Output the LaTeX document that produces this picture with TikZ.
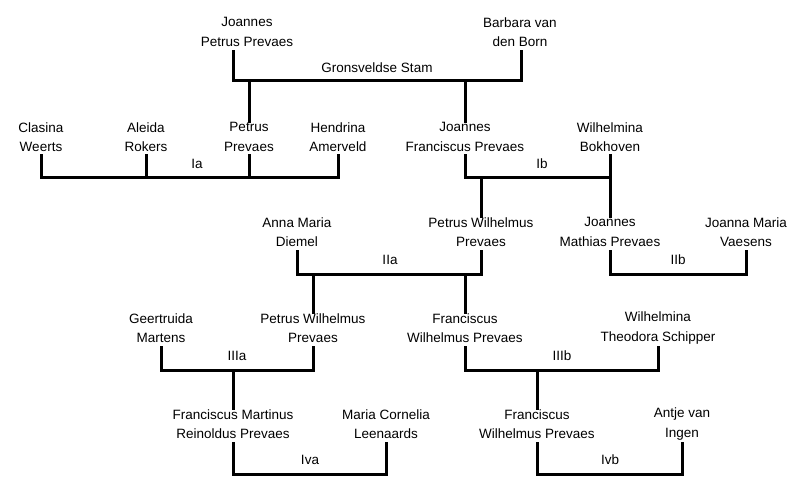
\documentclass[tikz,border=0pt]{standalone}
\usepackage{fontspec}
\setmainfont{Liberation Sans}
\begin{document}
\begin{tikzpicture}[x=1pt,y=-1pt,
  person/.style={align=center,inner sep=1pt,font=\fontsize{13.5}{19.5}\selectfont},
  lab/.style={inner sep=1pt,font=\fontsize{13.5}{16}\selectfont},
  ln/.style={line width=3pt,line cap=rect}]
\useasboundingbox (0,0) rectangle (804,492);
% people
\node[person] (jp) at (247,32) {Joannes\\Petrus Prevaes};
\node[person] (bb) at (520,32) {Barbara van\\den Born};
\node[person] (cw) at (41,137) {Clasina\\Weerts};
\node[person] (ar) at (146,137) {Aleida\\Rokers};
\node[person] (pp) at (249,137) {Petrus\\Prevaes};
\node[person] (ha) at (338,137) {Hendrina\\Amerveld};
\node[person] (jf) at (465,137) {Joannes\\Franciscus Prevaes};
\node[person] (wb) at (610,137) {Wilhelmina\\Bokhoven};
\node[person] (ad) at (297,232) {Anna Maria\\Diemel};
\node[person] (pw) at (481,232) {Petrus Wilhelmus\\Prevaes};
\node[person] (jm) at (610,232) {Joannes\\Mathias Prevaes};
\node[person] (jv) at (746,232) {Joanna Maria\\Vaesens};
\node[person] (gm) at (161,328) {Geertruida\\Martens};
\node[person] (pw2) at (313,328) {Petrus Wilhelmus\\Prevaes};
\node[person] (fw) at (465,328) {Franciscus\\Wilhelmus Prevaes};
\node[person] (wt) at (658,328) {Wilhelmina\\Theodora Schipper};
\node[person] (fm) at (233,424) {Franciscus Martinus\\Reinoldus Prevaes};
\node[person] (mc) at (386,424) {Maria Cornelia\\Leenaards};
\node[person] (fw2) at (537,424) {Franciscus\\Wilhelmus Prevaes};
\node[person] (ai) at (682,424) {Antje van\\Ingen};
% labels
\node[lab] (l0) at (377,68) {Gronsveldse Stam};
\node[lab] (l1) at (197,164) {Ia};
\node[lab] (l2) at (542,164) {Ib};
\node[lab] (l3) at (390,260) {IIa};
\node[lab] (l4) at (678,260) {IIb};
\node[lab] (l5) at (237,356) {IIIa};
\node[lab] (l6) at (562,356) {IIIb};
\node[lab] (l7) at (310,460) {Iva};
\node[lab] (l8) at (610,460) {Ivb};
% marriages
\draw[ln] (233,52) -- (233,81) -- (521,81) -- (521,52);
\draw[ln] (249,81) -- (pp.north);
\draw[ln] (465,81) -- (jf.north);
\draw[ln] (41,156) -- (41,178) -- (338,178) -- (338,156);
\draw[ln] (146,156) -- (146,178);
\draw[ln] (249,156) -- (249,178);
\draw[ln] (465,156) -- (465,178) -- (610,178) -- (610,156);
\draw[ln] (481,178) -- (pw.north);
\draw[ln] (610,178) -- (jm.north);
\draw[ln] (297,251) -- (297,274) -- (481,274) -- (481,251);
\draw[ln] (610,251) -- (610,274) -- (746,274) -- (746,251);
\draw[ln] (313,274) -- (pw2.north);
\draw[ln] (465,274) -- (fw.north);
\draw[ln] (161,347) -- (161,370) -- (313,370) -- (313,347);
\draw[ln] (465,347) -- (465,370) -- (658,370) -- (658,347);
\draw[ln] (233,370) -- (fm.north);
\draw[ln] (537,370) -- (fw2.north);
\draw[ln] (233,443) -- (233,474) -- (386,474) -- (386,443);
\draw[ln] (537,443) -- (537,474) -- (682,474) -- (682,443);
\end{tikzpicture}
\end{document}
